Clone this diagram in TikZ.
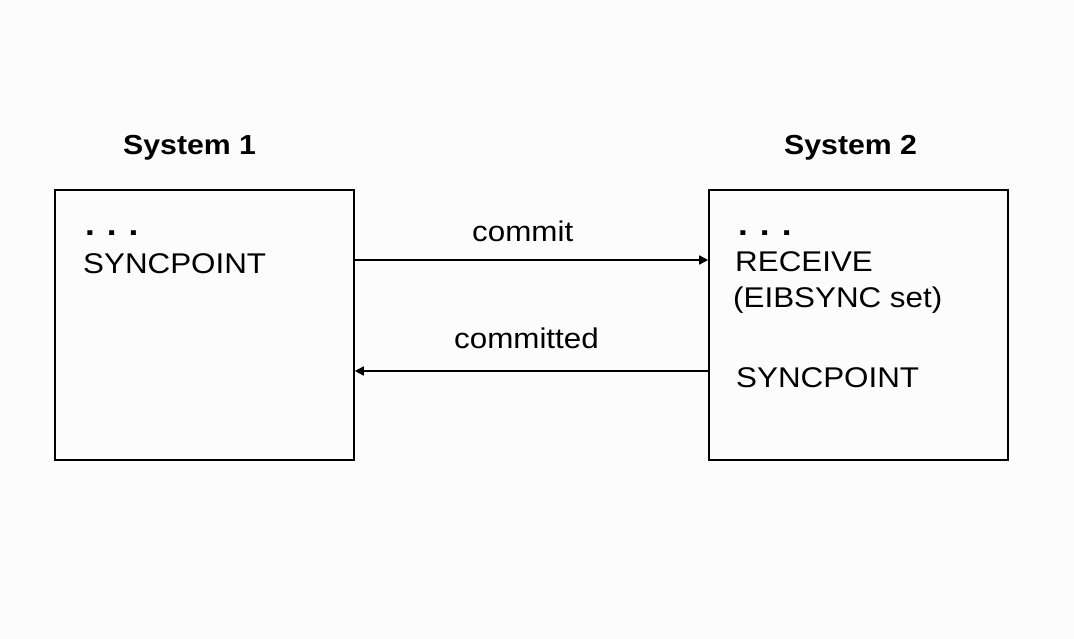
\documentclass[tikz,border=0pt]{standalone}
\usepackage{fontspec}
\setmainfont{Liberation Sans}[FakeStretch=1.1]
\usetikzlibrary{arrows.meta}
\definecolor{bgc}{RGB}{252,252,252}
\tikzset{
  sysbox/.style={draw=black, line width=1.6pt, minimum width=299pt, minimum height=270pt, inner sep=0pt},
  lbl/.style={inner sep=0pt, anchor=base west, font=\fontsize{28.5}{34}\selectfont},
  ttl/.style={inner sep=0pt, anchor=base west, font=\fontsize{27.5}{33}\selectfont\bfseries},
  msg/.style={line width=1.6pt, -{Triangle[length=9pt,width=9pt]}},
}
\newcommand{\mydots}{{\bfseries\fontsize{32}{34}\selectfont .\kern12pt.\kern12pt.}}
\begin{document}
\begin{tikzpicture}[x=1pt,y=-1pt]
\fill[bgc] (0,0) rectangle (1074,639);
\useasboundingbox (0,0) rectangle (1074,639);
\node[sysbox] (s1) at (204.5,325) {};
\node[sysbox] (s2) at (858.5,325) {};
\node[ttl] (t1) at (123,155) {System 1};
\node[ttl] (t2) at (784,155) {System 2};
\node[lbl] (d1) at (85,236) {\mydots};
\node[lbl] (a1) at (83,273) {SYNCPOINT};
\node[lbl] (d2) at (738,236) {\mydots};
\node[lbl] (b1) at (735,272) {RECEIVE};
\node[lbl] (b2) at (733,307) {(EIBSYNC set)};
\node[lbl] (b3) at (736,387) {SYNCPOINT};
\node[lbl] (m1) at (472,242) {commit};
\node[lbl] (m2) at (454,348) {committed};
\draw[msg] (s1.east |- 0,260) -- (s2.west |- 0,260);
\draw[msg] (s2.west |- 0,371) -- (s1.east |- 0,371);
\end{tikzpicture}
\end{document}
